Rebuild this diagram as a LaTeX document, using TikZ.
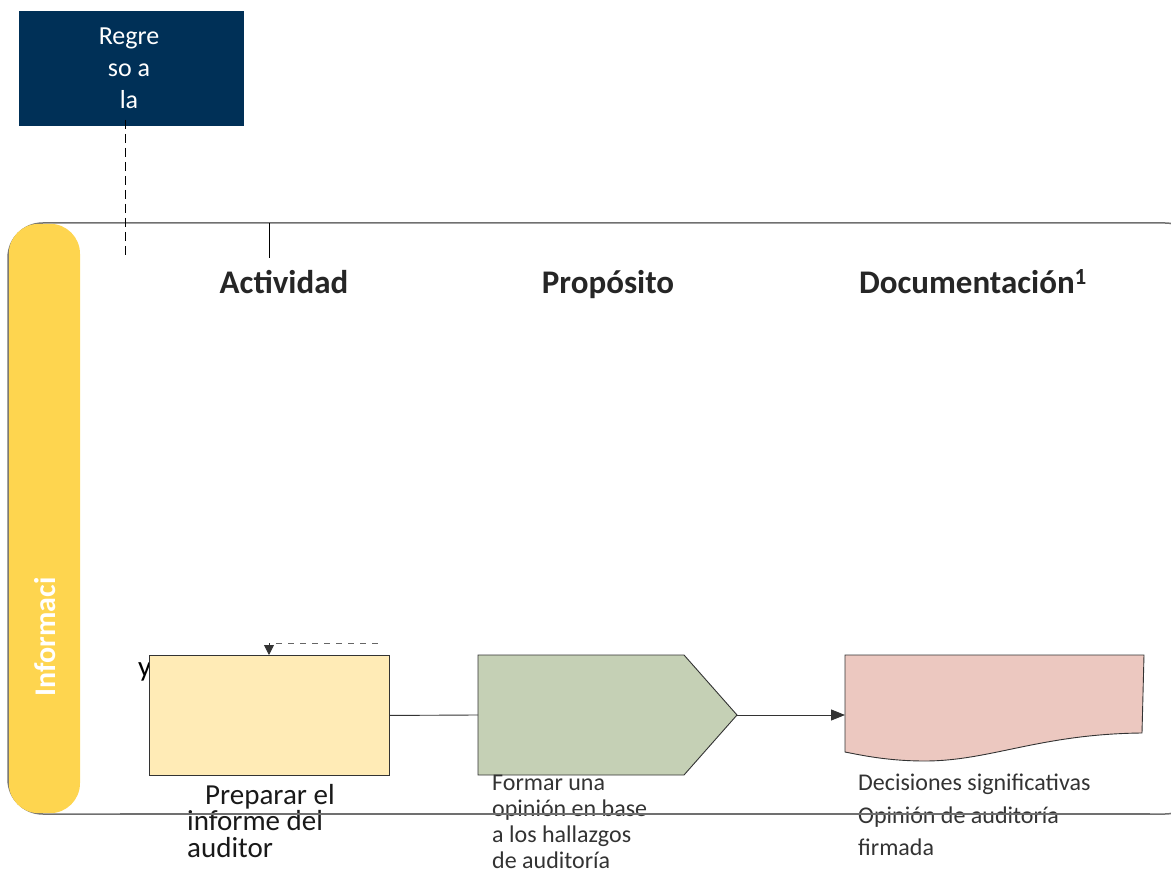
\documentclass[tikz,border=0pt]{standalone}
\usepackage{fontspec}
\setmainfont{Carlito}
\usetikzlibrary{arrows.meta}
\definecolor{navy}{HTML}{003057}
\definecolor{barcol}{HTML}{FED54F}
\definecolor{actfill}{HTML}{FFEBB6}
\definecolor{purfill}{HTML}{C5D0B5}
\definecolor{docfill}{HTML}{ECC8C0}
\definecolor{framecol}{HTML}{707070}
\definecolor{txt}{HTML}{333333}
\tikzset{
  header/.style={font=\fontsize{33}{36}\selectfont\bfseries, text=black!85, anchor=base},
  shapebox/.style={draw=black!80, line width=0.9pt},
  lbltext/.style={font=\fontsize{24}{25.8}\selectfont, text=txt, align=left, anchor=north west, inner sep=0pt},
  conn/.style={draw=black!80, line width=0.9pt},
}
\begin{document}
\begin{tikzpicture}[x=1pt,y=-1pt]
\useasboundingbox (0,0) rectangle (1171,874);
% navy box
\node[fill=navy, minimum width=225pt, minimum height=115pt, inner sep=0pt, anchor=north west] (back) at (19,11) {};
\node[text=white, font=\fontsize{26}{32}\selectfont, align=center, anchor=north, inner sep=0pt] (backtxt) at (129,28) {Regre\\so a\\la};
% frame
\draw[framecol, line width=1.5pt, rounded corners=35pt] (8,223) rectangle (1200,814);
\fill[barcol, rounded corners=30pt] (8.8,223.8) rectangle (80,813.2);
\node[rotate=90, text=white, font=\fontsize{30}{32}\selectfont\bfseries] (info) at (45,637) {Informaci};
% top connectors
\coordinate (dtop) at (125,120);
\coordinate (dbot) at (125,258);
\draw[black, dashed, dash pattern=on 9pt off 5pt, line width=0.8pt] (dtop) -- (dbot);
\coordinate (stop) at (269,223);
\coordinate (sbot) at (269,258);
\draw[black, line width=0.8pt] (stop) -- (sbot);
% headers
\node[header] (h1) at (284,294) {Actividad};
\node[header] (h2) at (608,294) {Propósito};
\node[header] (h3) at (973,294) {Documentación\textsuperscript{1}};
% hidden fragment
\node[font=\fontsize{29}{30}\selectfont, anchor=base west, inner sep=0pt] (frag) at (138,676) {y};
\coordinate (fragdash1) at (276,643);
\coordinate (fragdash2) at (380,643);
\draw[black!60, dashed, dash pattern=on 6pt off 6pt, line width=0.7pt] (fragdash1) -- (fragdash2);
% activity box
\node[shapebox, fill=actfill, minimum width=240pt, minimum height=120pt, inner sep=0pt, anchor=north west] (act) at (149,655) {};
\coordinate (arrin) at (269,643);
\draw[conn, -{Triangle[length=10pt,width=10pt]}] (arrin) -- (act.north -| arrin);
% purpose pentagon
\draw[shapebox, fill=purfill] (478,655) -- (684,655) -- (737,715) -- (684,775) -- (478,775) -- cycle;
\coordinate (purin) at (478,715);
\coordinate (purout) at (737,715);
% document
\draw[shapebox, fill=docfill] (845,655) -- (1144,655) -- (1142,733)
  .. controls (1040,734) and (990,761) .. (925,761)
  .. controls (890,761) and (865,756) .. (845,752) -- cycle;
\coordinate (docin) at (845,715);
\draw[conn] (act.east) -- (purin);
\draw[conn, -{Triangle[length=14pt,width=11pt]}] (purout) -- (docin);
% labels
\node[font=\fontsize{29}{26.5}\selectfont, text=black!90, align=left, anchor=north west, inner sep=0pt] (actlbl) at (187,784) {\hspace*{18pt}Preparar el\\informe del\\auditor};
\node[lbltext] (purlbl) at (492,775) {Formar una\\opinión en base\\a los hallazgos\\de auditoría};
\node[lbltext, font=\fontsize{24}{32.5}\selectfont] (doclbl) at (858,774) {Decisiones significativas\\Opinión de auditoría\\firmada};
% bottom frame line over labels
\draw[framecol, line width=1.2pt] (120,814) -- (1150,814);
\end{tikzpicture}
\end{document}
